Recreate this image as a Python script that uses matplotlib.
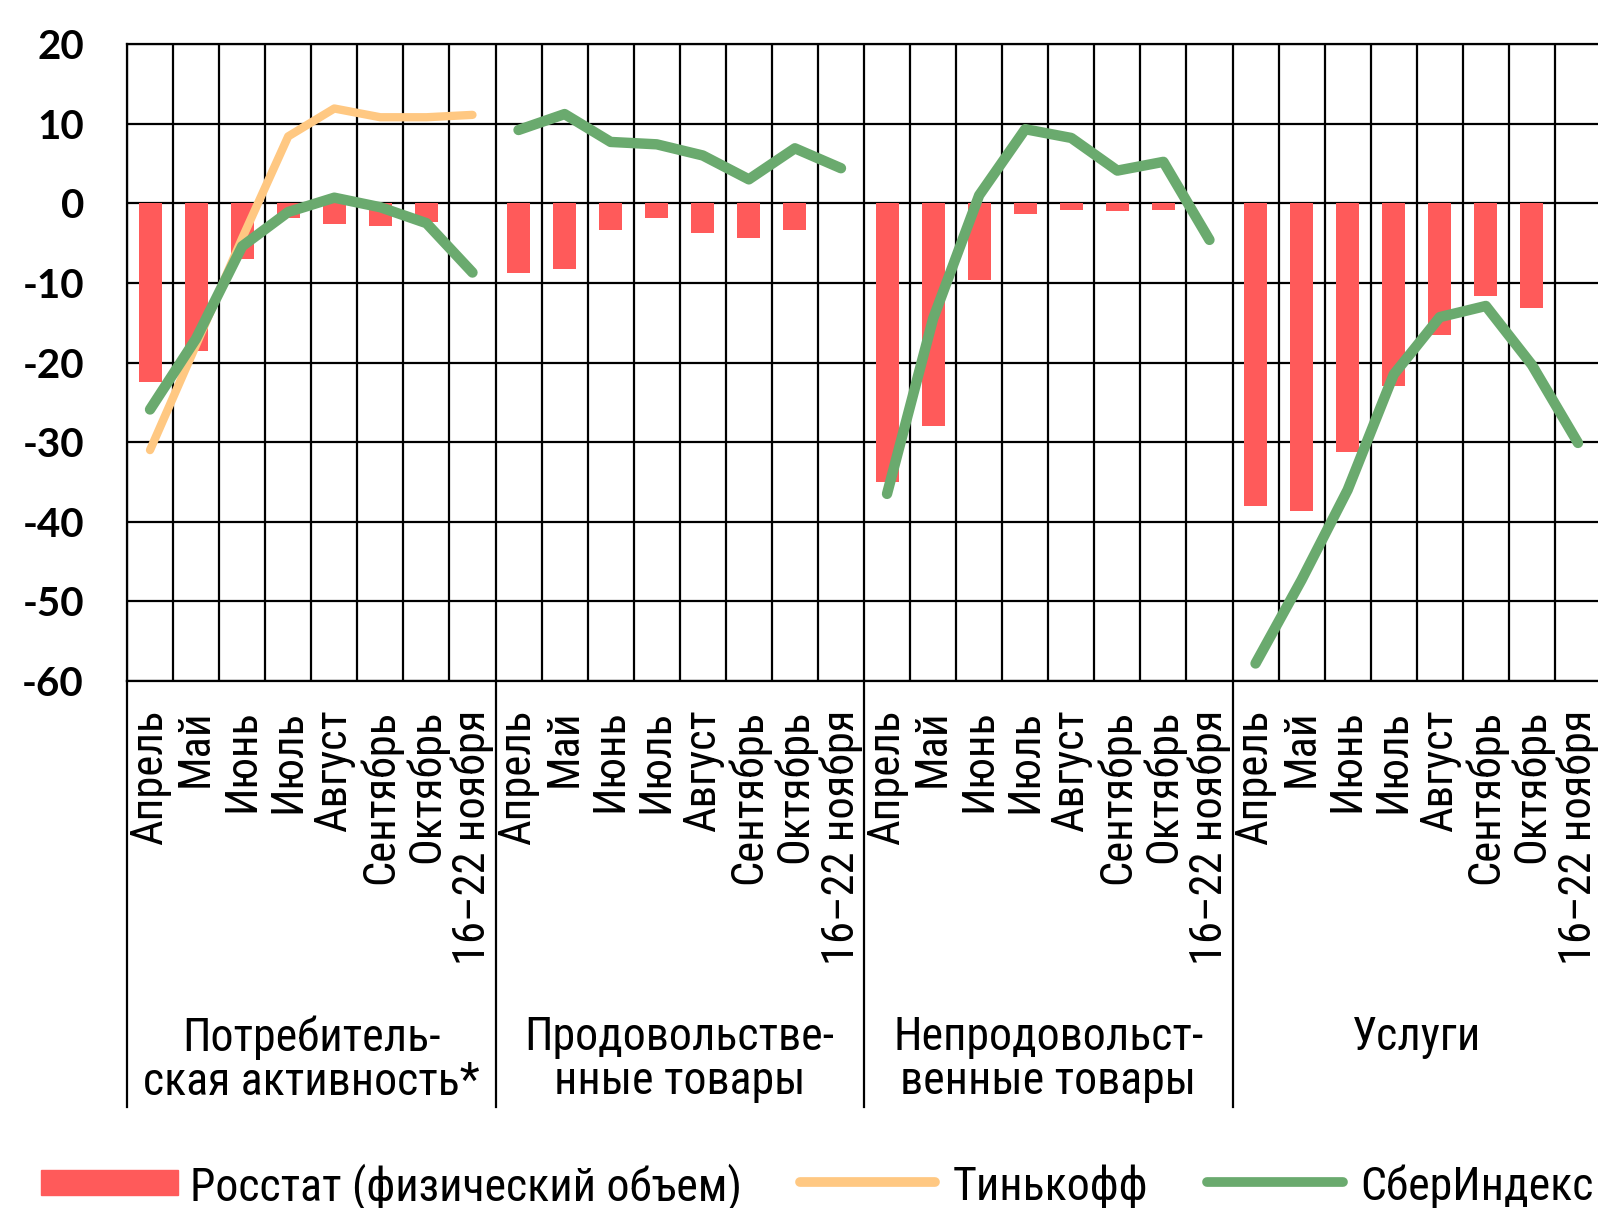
import matplotlib
matplotlib.use('Agg')
import matplotlib.pyplot as plt
from matplotlib.patches import Rectangle
from matplotlib.lines import Line2D

months = ['Апрель', 'Май', 'Июнь', 'Июль', 'Август', 'Сентябрь', 'Октябрь', '16–22 ноября']
groups = ['Потребитель-\nская активность*', 'Продовольстве-\nнные товары',
          'Непродовольст-\nвенные товары', 'Услуги']

# Росстат (физический объем), None = no data
rosstat = [
    [-22.5, -18.5, -7.0, -1.8, -2.6, -2.9, -2.3, None],
    [-8.8, -8.2, -3.4, -1.8, -3.7, -4.4, -3.4, None],
    [-35.0, -28.0, -9.7, -1.3, -0.8, -1.0, -0.8, None],
    [-38.0, -38.7, -31.2, -23.0, -16.6, -11.7, -13.1, None],
]
# Тинькофф, only for consumer activity
tinkoff = [-31.0, -17.8, -4.4, 8.4, 11.9, 10.8, 10.8, 11.1]
# СберИндекс
sber = [
    [-25.9, -17.0, -5.4, -1.1, 0.7, -0.5, -2.5, -8.7],
    [9.2, 11.2, 7.7, 7.4, 6.0, 3.0, 6.9, 4.4],
    [-36.5, -14.5, 1.0, 9.3, 8.2, 4.1, 5.2, -4.6],
    [-57.8, -47.3, -36.0, -21.5, -14.3, -12.9, -20.3, -30.1],
]

RED = '#ff5a5a'
ORANGE = '#ffc882'
GREEN = '#6aaa6e'
NARROW = ['Roboto Condensed', 'Roboto', 'DejaVu Sans']

plt.rcParams['axes.unicode_minus'] = False

W, H = 1598, 1208
fig = plt.figure(figsize=(W / 100, H / 100), dpi=100)
ax = fig.add_axes([127 / W, 1 - 681 / H, (1601 - 127) / W, (681 - 44) / H])

n = len(months)
for g in range(len(groups)):
    xs = [g * n + i + 0.5 for i in range(n)]
    bx = [x for x, v in zip(xs, rosstat[g]) if v is not None]
    bv = [v for v in rosstat[g] if v is not None]
    ax.bar(bx, bv, width=0.5, color=RED, zorder=2)
    if g == 0:
        ax.plot(xs, tinkoff, color=ORANGE, lw=6, solid_capstyle='round', zorder=3)
    ax.plot(xs, sber[g], color=GREEN, lw=7.5, solid_capstyle='round', zorder=4)

ax.set_xlim(0, n * len(groups))
ax.set_ylim(-60, 20)
ax.set_yticks(range(-60, 21, 10))
ax.set_xticks(range(0, n * len(groups) + 1))
ax.set_xticklabels([])
ax.grid(True, color='black', lw=1.6, zorder=1)
ax.tick_params(axis='y', length=0, pad=31)
ax.tick_params(axis='x', length=0)
for lab in ax.get_yticklabels():
    lab.set_family(['Lato', 'DejaVu Sans'])
    lab.set_fontweight('bold')
    lab.set_fontsize(29)
for s in ax.spines.values():
    s.set_linewidth(1.6)

# month labels and group labels below the plot
for g, name in enumerate(groups):
    for i, m in enumerate(months):
        ax.text(g * n + i + 0.5, -63.6, m, rotation=90, ha='center', va='top',
                fontsize=32, family=NARROW)
    ax.text(g * n + n / 2, -102.0, name, ha='center', va='top',
            fontsize=33, family=NARROW, linespacing=1.0)
    ax.plot([g * n, g * n], [-60, -113.5], color='black', lw=1.6, clip_on=False)

# legend
fy = 1 - 1187 / H
fig.add_artist(Rectangle((41 / W, 1 - 1195 / H), 137 / W, 25 / H, color=RED))
fig.text(190 / W, fy, 'Росстат (физический объем)', fontsize=33, family=NARROW, va='center')
fig.add_artist(Line2D([800 / W, 935 / W], [1 - 1182 / H] * 2, color=ORANGE, lw=7, solid_capstyle='round'))
fig.text(953 / W, fy, 'Тинькофф', fontsize=33, family=NARROW, va='center')
fig.add_artist(Line2D([1207 / W, 1343 / W], [1 - 1182 / H] * 2, color=GREEN, lw=7, solid_capstyle='round'))
fig.text(1360 / W, fy, 'СберИндекс', fontsize=33, family=NARROW, va='center')

fig.savefig('out.png', dpi=100)
